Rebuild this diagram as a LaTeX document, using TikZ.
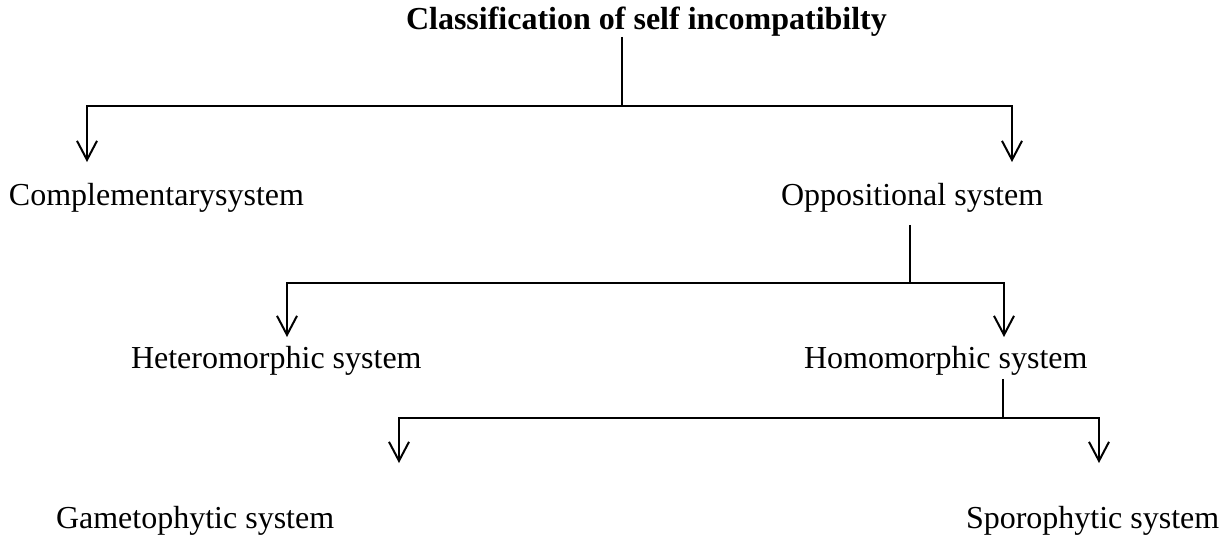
\documentclass[tikz,border=0pt]{standalone}
\usepackage{fontspec}
\setmainfont{Liberation Serif}
\usepackage{tikz}
\usetikzlibrary{arrows.meta,positioning}
\tikzstyle{arrow} = [-{Straight Barb[length=9.5pt,width=10pt]}]

\begin{document}
\begin{tikzpicture}[x=0.5pt, y=-0.5pt, line width=1pt, every node/.style={inner sep=0pt, anchor=base west, font=\fontsize{16}{19}\selectfont}]
		\useasboundingbox (0,0) rectangle (1222,538);
		\node (title) at (405,29) {\textbf{Classification of self incompatibilty}};
		\node (comp) at (8,205) {Complementarysystem};
		\node (oppo) at (780,205) {Oppositional system};
		\node (hetero) at (130,368) {Heteromorphic system};
		\node (homo) at (803,368) {Homomorphic system};
		\node (gameto) at (55,528) {Gametophytic system};
		\node (sporo) at (965,528) {Sporophytic system};

		% branch points and arrow ends
		\coordinate (j1) at (622,106);
		\coordinate (a1) at (87,162);
		\coordinate (a2) at (1012,162);
		\coordinate (j2) at (910,283);
		\coordinate (b1) at (287,337);
		\coordinate (b2) at (1004,337);
		\coordinate (j3) at (1003,418);
		\coordinate (c1) at (399,463);
		\coordinate (c2) at (1099,463);

		\draw (j1 |- title.south) -- (j1);
		\draw [arrow] (j1) -| (a1);
		\draw [arrow] (j1) -| (a2);
		\draw [shorten <=6pt] (j2 |- oppo.south) -- (j2);
		\draw [arrow] (j2) -| (b1);
		\draw [arrow] (j2) -| (b2);
		\draw [shorten <=1.5pt] (j3 |- homo.south) -- (j3);
		\draw [arrow] (j3) -| (c1);
		\draw [arrow] (j3) -| (c2);
	\end{tikzpicture}
\end{document}
